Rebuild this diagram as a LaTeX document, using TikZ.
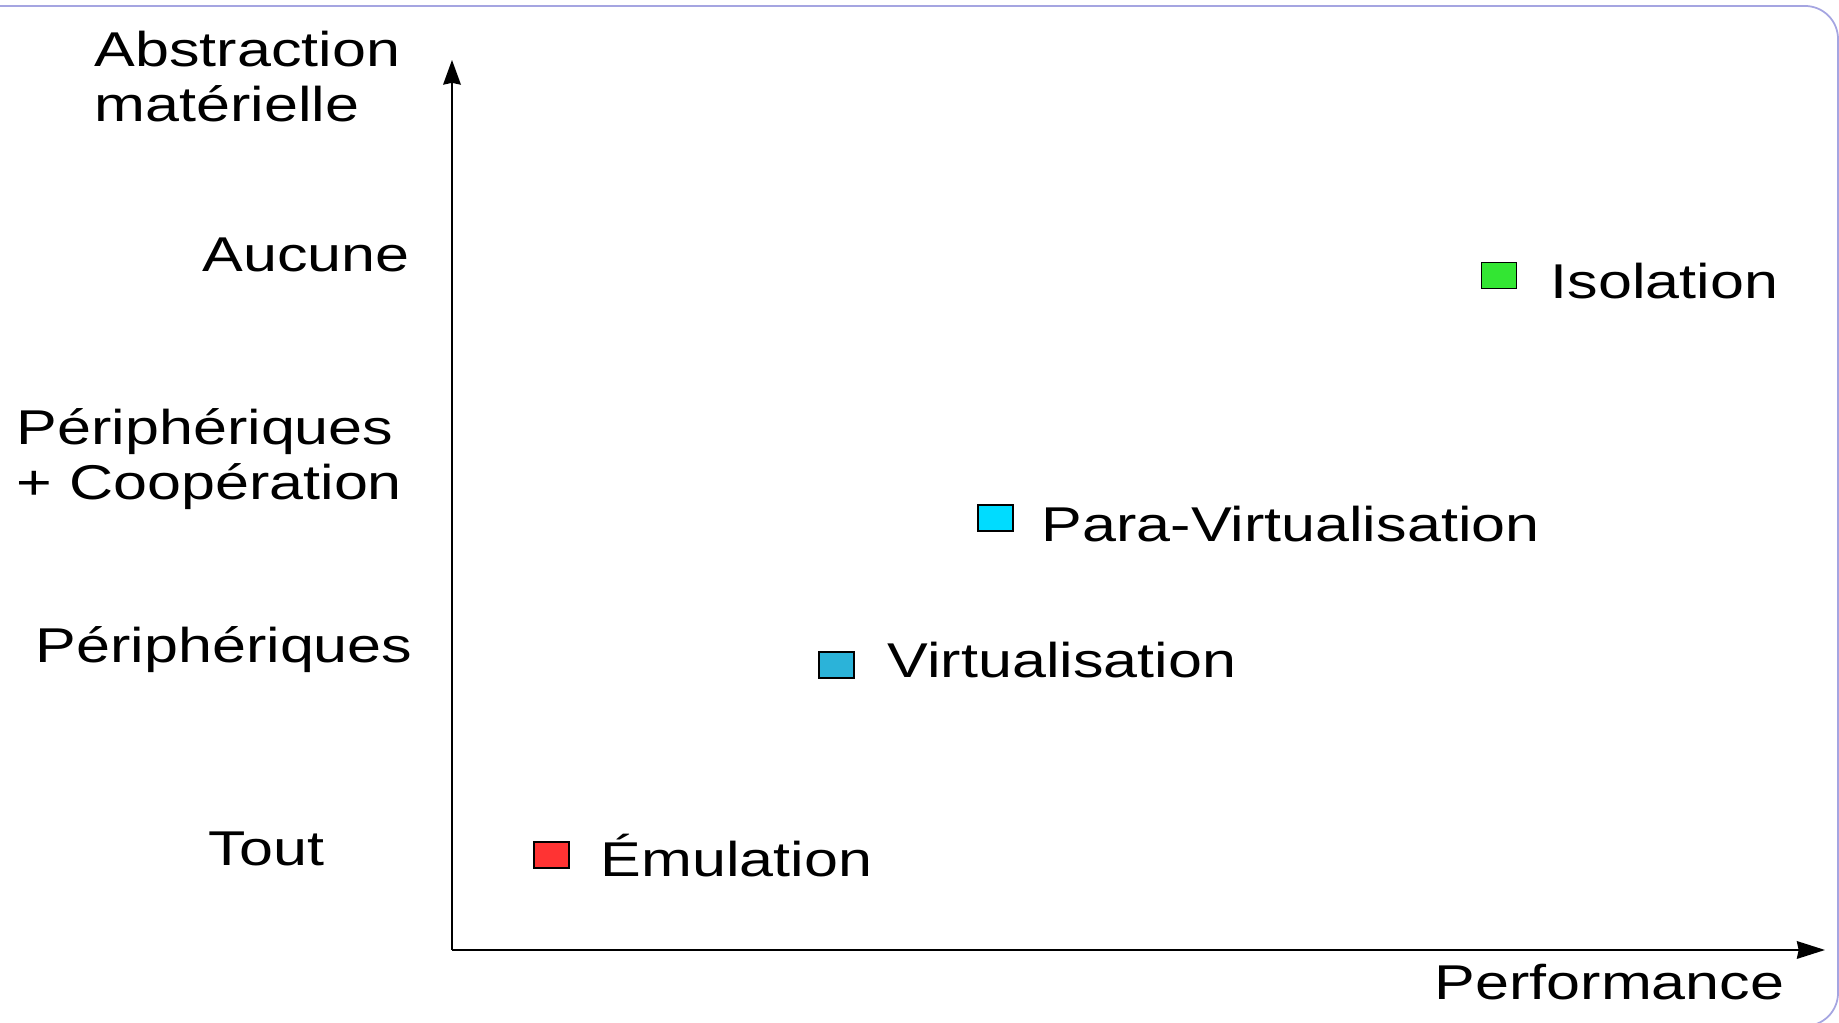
\documentclass[tikz,border=0pt]{standalone}
\usepackage{fontspec}
\setmainfont{Liberation Sans}[FakeStretch=1.25]
\usetikzlibrary{arrows.meta}
\definecolor{emured}{RGB}{255,51,51}
\definecolor{virtblue}{RGB}{43,179,217}
\definecolor{paracyan}{RGB}{0,220,255}
\definecolor{isogreen}{RGB}{51,230,51}
\definecolor{framelilac}{RGB}{165,165,225}
\tikzset{
  lbl/.style={anchor=base west,inner sep=0pt,font=\fontsize{13.9pt}{15.9pt}\selectfont,align=left},
  mark box/.style={draw=black,line width=0.5pt,minimum width=0.35cm,minimum height=0.26cm,inner sep=0pt}
}
\begin{document}
\begin{tikzpicture}
 \useasboundingbox (0,0) rectangle (18.39,10.23);
 \clip (0,0) rectangle (18.39,10.23);
 \draw[framelilac,line width=0.5pt,rounded corners=0.33cm] (-1,-0.03) rectangle (18.38,10.17);
 \coordinate (origin) at (4.52,0.73);
 \coordinate (ytop) at (4.52,9.63);
 \coordinate (xend) at (18.25,0.73);
 \draw[line width=0.6pt,->,>={Stealth[length=7pt,width=5pt,inset=0.5pt]}] (origin) -- (ytop);
 \draw[line width=0.6pt,->,>={Stealth[length=8pt,width=5pt,inset=0.5pt]}] (origin) -- (xend);
 \node[lbl] (abstr) at (0.94,9.01) {Abstraction\\matérielle};
 \node[lbl] (aucune) at (2.02,7.51) {Aucune};
 \node[lbl] (periphcoop) at (0.16,5.23) {Périphériques\\+ Coopération};
 \node[lbl] (periph) at (0.35,3.60) {Périphériques};
 \node[lbl] (tout) at (2.08,1.57) {Tout};
 \node[lbl,anchor=base east] (perf) at (17.85,0.23) {Performance};
 \node[mark box,fill=emured] (emu) at (5.515,1.68) {};
 \node[mark box,fill=virtblue] (virt) at (8.365,3.58) {};
 \node[mark box,fill=paracyan] (para) at (9.955,5.05) {};
 \node[mark box,fill=isogreen] (iso) at (14.99,7.475) {};
 \node[lbl] (emulbl) at (6.00,1.46) {Émulation};
 \node[lbl] (virtlbl) at (8.87,3.45) {Virtualisation};
 \node[lbl] (paralbl) at (10.41,4.81) {Para-Virtualisation};
 \node[lbl] (isolbl) at (15.50,7.24) {Isolation};
\end{tikzpicture}
\end{document}
